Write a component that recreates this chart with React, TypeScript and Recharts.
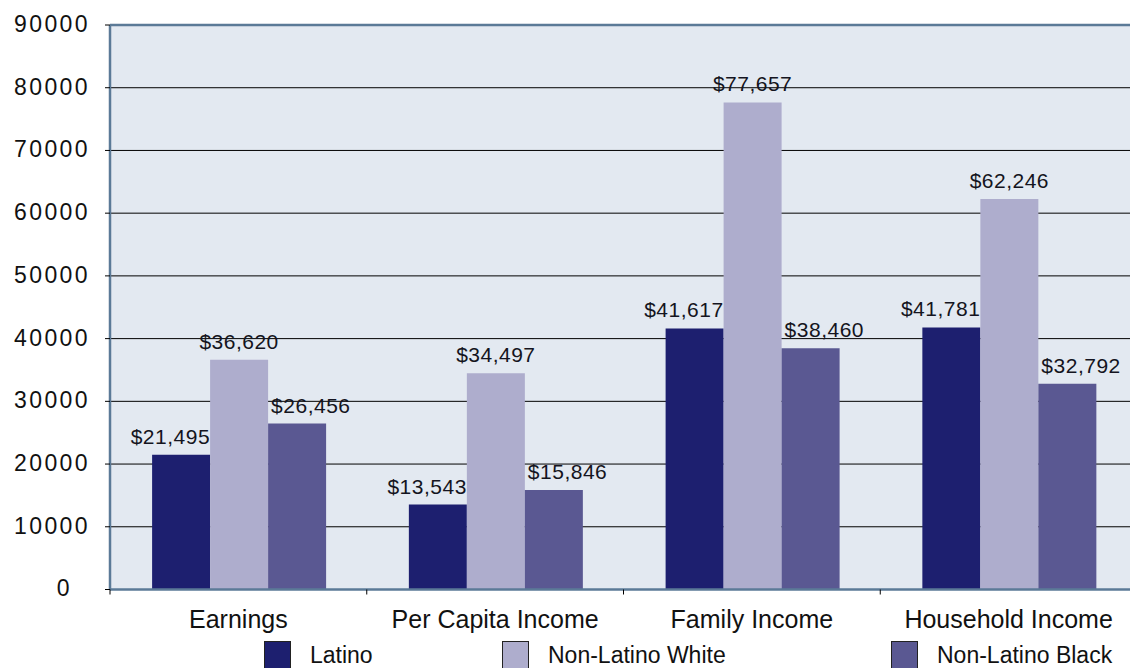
import React from 'react';
import { BarChart, Bar, XAxis, YAxis, CartesianGrid, LabelList, ReferenceLine } from 'recharts';

const categories = ['Earnings', 'Per Capita Income', 'Family Income', 'Household Income'];
const latino = [21495, 13543, 41617, 41781];
const nonLatinoWhite = [36620, 34497, 77657, 62246];
const nonLatinoBlack = [26456, 15846, 38460, 32792];
const yTicks = [0, 10000, 20000, 30000, 40000, 50000, 60000, 70000, 80000, 90000];

const data = categories.map((name, i) => ({
    name,
    latino: latino[i],
    white: nonLatinoWhite[i],
    black: nonLatinoBlack[i],
}));

const FONT = '"Liberation Sans", Arial, Helvetica, sans-serif';
const BORDER = '#5b7a97';
const CHART_W = 1150;
const CHART_H = 668;
const MARGIN = { top: 25, right: 13, left: 0, bottom: 38.5 };
const Y_AXIS_W = 110;
const X_AXIS_H = 40;
const X_TICK_MARGIN = 19.5;
const BAND = (CHART_W - MARGIN.left - MARGIN.right - Y_AXIS_W) / categories.length;

const series = [
    { key: 'latino', name: 'Latino', color: '#1d1f6f', anchor: 'end' },
    { key: 'white', name: 'Non-Latino White', color: '#aeadcd', anchor: 'middle' },
    { key: 'black', name: 'Non-Latino Black', color: '#5a5892', anchor: 'start' },
];

const legendLeft = [264, 502, 891];

const money = (v: number) => `$${v.toLocaleString('en-US')}`;

const makeLabel = (anchor: string) => (props: any) => {
    const { x, y, width, value } = props;
    let tx = x + width / 2;
    if (anchor === 'end') tx = x + width;
    if (anchor === 'start') tx = x + 3;
    return (
        <text x={tx} y={y - 11} textAnchor={anchor} fontSize={21} letterSpacing={0.5} fill="#141420" fontFamily={FONT}>
            {money(value)}
        </text>
    );
};

const CategoryTick = (props: any) => {
    const { x, y, payload, index } = props;
    const axisY = y - X_TICK_MARGIN;
    return (
        <g>
            <line x1={x - BAND / 2} x2={x - BAND / 2} y1={axisY} y2={axisY + 5} stroke="#000" />
            {index === categories.length - 1 && (
                <line x1={x + BAND / 2} x2={x + BAND / 2} y1={axisY} y2={axisY + 5} stroke="#000" />
            )}
            <text x={x} y={y} dy="0.76em" textAnchor="middle" fontSize={25} fill="#111" fontFamily={FONT}>
                {payload.value}
            </text>
        </g>
    );
};

// y labels: the reference puts the lone "0" further left than the others
const ValueTick = (props: any) => {
    const { x, y, payload } = props;
    const shift = payload.value === 0 ? -18 : 0;
    return (
        <text x={x + shift} y={y} dy="0.3em" textAnchor="end" fontSize={23} letterSpacing={2.4} fill="#111" fontFamily={FONT}>
            {payload.value}
        </text>
    );
};

const Legend = () => (
    <div style={{ position: 'absolute', top: 641, left: 0, width: 1130, height: 28, fontFamily: FONT }}>
        {series.map((s, i) => (
            <div key={s.key} style={{ position: 'absolute', left: legendLeft[i], top: 0, display: 'flex', alignItems: 'flex-start' }}>
                <div style={{ width: 27, height: 28, background: s.color, boxSizing: 'border-box', border: '1px solid #222' }} />
                <span style={{ marginLeft: 19, marginTop: 1, fontSize: 23, lineHeight: '26px', color: '#111', whiteSpace: 'nowrap' }}>
                    {s.name}
                </span>
            </div>
        ))}
    </div>
);

export default function App() {
    return (
        <div style={{ position: 'absolute', top: 0, left: 0, width: 1130, height: 668, overflow: 'hidden', background: '#fff' }}>
            <BarChart width={CHART_W} height={CHART_H} data={data} margin={MARGIN} barCategoryGap="16.4%" barGap={0}>
                <CartesianGrid vertical={false} stroke="#000" strokeWidth={1} fill="#e3e9f1" fillOpacity={1} />
                <XAxis
                    dataKey="name"
                    height={X_AXIS_H}
                    axisLine={{ stroke: BORDER, strokeWidth: 2.5 }}
                    tickLine={false}
                    tickSize={0}
                    tickMargin={X_TICK_MARGIN}
                    interval={0}
                    tick={<CategoryTick />}
                />
                <YAxis
                    width={Y_AXIS_W}
                    domain={[0, 90000]}
                    ticks={yTicks}
                    interval={0}
                    axisLine={{ stroke: BORDER, strokeWidth: 2.5 }}
                    tickLine={{ stroke: '#000' }}
                    tickSize={5}
                    tickMargin={15}
                    tick={<ValueTick />}
                />
                <ReferenceLine y={90000} stroke={BORDER} strokeWidth={2.5} />
                {series.map((s) => (
                    <Bar key={s.key} dataKey={s.key} name={s.name} fill={s.color} isAnimationActive={false}>
                        <LabelList dataKey={s.key} content={makeLabel(s.anchor)} />
                    </Bar>
                ))}
            </BarChart>
            <Legend />
        </div>
    );
}
